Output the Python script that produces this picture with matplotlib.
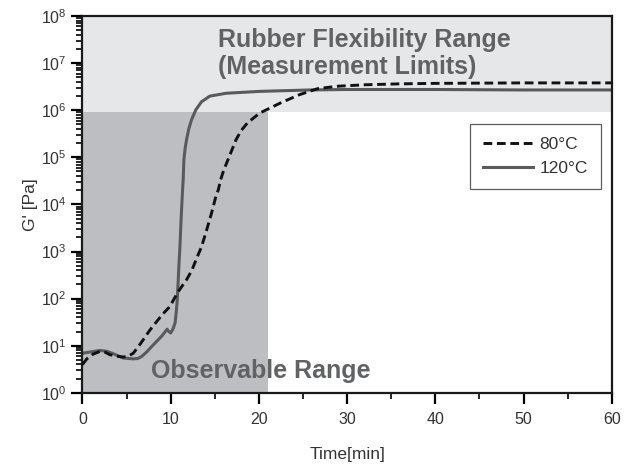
import numpy as np
import matplotlib
matplotlib.use("Agg")
import matplotlib.pyplot as plt
from matplotlib.ticker import FixedLocator, LogLocator, NullFormatter

plt.rcParams['font.family'] = ['Liberation Sans', 'DejaVu Sans']
plt.rcParams['mathtext.fontset'] = 'custom'
plt.rcParams['mathtext.rm'] = 'Liberation Sans'

# 120 degC curve (solid grey), log10 of G' in Pa
t_120 = [0, 1, 2, 2.8, 3.5, 4.6, 5.76, 6.3, 6.7, 7.3, 7.84, 8.4, 8.97, 9.35, 9.6,
         9.8, 10.0, 10.25, 10.5, 10.65, 10.75, 10.86, 10.95, 11.05, 11.2, 11.35,
         11.42, 11.5, 11.65, 11.8, 12.05, 12.37, 12.86, 13.5, 14.45, 16.3, 20.1,
         25.8, 30, 40, 50, 60]
lg_120 = [0.84, 0.87, 0.90, 0.88, 0.83, 0.74, 0.72, 0.73, 0.77, 0.87, 0.98, 1.09,
          1.20, 1.29, 1.35, 1.30, 1.27, 1.35, 1.48, 1.75, 1.97, 2.4, 2.75, 3.1,
          3.75, 4.31, 4.52, 4.95, 5.2, 5.37, 5.6, 5.80, 6.01, 6.18, 6.30, 6.36,
          6.40, 6.43, 6.44, 6.44, 6.43, 6.43]

# 80 degC curve (dashed black), log10 of G' in Pa
t_80 = [0, 0.5, 1.2, 2, 2.6, 3.1, 3.8, 4.6, 5.2, 5.76, 6.3, 6.9, 7.6, 8.4, 9.1,
        9.9, 10.86, 11.8, 12.4, 13.0, 13.5, 14.1, 14.64, 15.1, 15.4, 15.66, 16.0,
        16.5, 17.4, 18.0, 18.7, 20.1, 22.4, 24.6, 26.7, 29, 32, 36, 40, 50, 60]
lg_80 = [0.6, 0.72, 0.82, 0.88, 0.86, 0.81, 0.78, 0.76, 0.78, 0.84, 0.97, 1.13,
         1.32, 1.51, 1.67, 1.83, 2.15, 2.4, 2.6, 2.88, 3.1, 3.47, 3.82, 4.15,
         4.31, 4.52, 4.72, 4.95, 5.37, 5.57, 5.73, 5.94, 6.15, 6.33, 6.46, 6.51,
         6.54, 6.56, 6.57, 6.58, 6.58]

x_ticks = [0, 10, 20, 30, 40, 50, 60]
y_exp = [0, 1, 2, 3, 4, 5, 6, 7, 8]

fig = plt.figure(figsize=(6.34, 4.71), dpi=100)
ax = fig.add_axes([0.130, 0.166, 0.835, 0.800])

ax.set_yscale('log')
ax.set_xlim(0, 60)
ax.set_ylim(1, 1e8)

# shaded ranges
ax.axhspan(9e5, 1e8, color='#e6e7e9', zorder=0, lw=0)
ax.fill_between([0, 21], 1, 9e5, color='#bdbec1', zorder=0.5, lw=0)

ax.plot(t_80, 10.0 ** np.array(lg_80), color='#111111', lw=2.1,
        ls=(0, (3, 1.6)), label='80°C', zorder=3)
ax.plot(t_120, 10.0 ** np.array(lg_120), color='#5a5a5c', lw=2.2,
        label='120°C', zorder=2, solid_joinstyle='round')

txt_kw = dict(fontsize=18, fontweight='bold', color='#616264', va='baseline')
ax.text(15.4, 10**7.35, 'Rubber Flexibility Range', **txt_kw)
ax.text(15.4, 10**6.77, '(Measurement Limits)', **txt_kw)
ax.text(7.8, 10**0.31, 'Observable Range', **txt_kw)

ax.xaxis.set_major_locator(FixedLocator(x_ticks))
ax.xaxis.set_minor_locator(FixedLocator([5, 15, 25, 35, 45, 55]))
ax.yaxis.set_major_locator(FixedLocator([10.0**e for e in y_exp]))
ax.yaxis.set_minor_locator(LogLocator(base=10, subs=np.arange(2, 10), numticks=20))
ax.yaxis.set_minor_formatter(NullFormatter())
ax.set_yticklabels(['10$^{%d}$' % e for e in y_exp])

ax.tick_params(axis='both', which='major', direction='out', length=8, width=1.6,
               labelsize=11.5, labelcolor='#333333', top=False, right=False)
ax.tick_params(axis='both', which='minor', direction='out', length=4, width=1.2,
               top=False, right=False)
ax.tick_params(axis='x', which='major', pad=6)

for s in ax.spines.values():
    s.set_linewidth(1.6)
    s.set_color('#1a1a1a')

ax.set_xlabel('Time[min]', fontsize=12.5, color='#333333', labelpad=14)
ax.set_ylabel("G' [Pa]", fontsize=12.5, color='#333333', labelpad=2)

leg = ax.legend(loc='upper right', bbox_to_anchor=(0.979, 0.7135), fontsize=12.5,
                frameon=True, fancybox=False, edgecolor='#333333',
                handlelength=2.9, borderpad=0.75, labelspacing=0.5,
                handletextpad=0.35, borderaxespad=0)
leg.get_frame().set_linewidth(0.9)
for txt in leg.get_texts():
    txt.set_color('#333333')

fig.savefig('out.png', dpi=100)
